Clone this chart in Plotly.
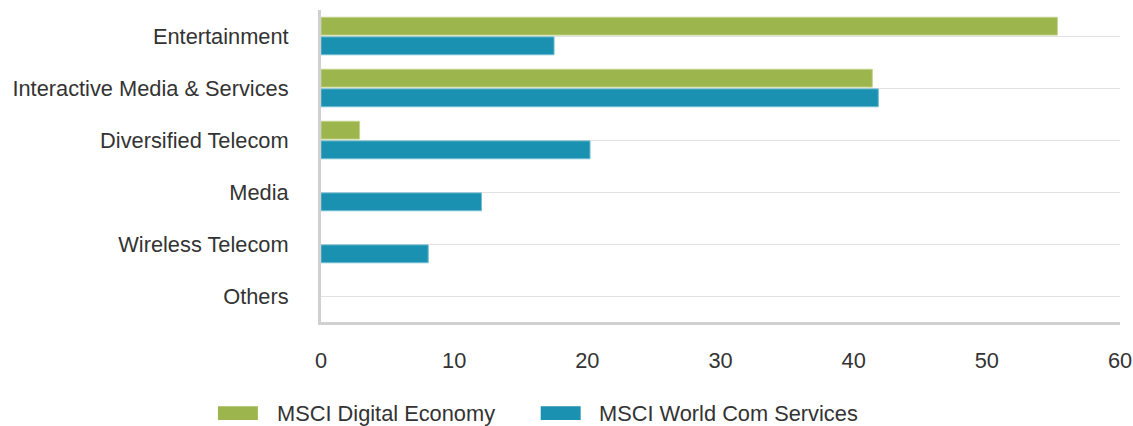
import plotly.graph_objects as go

# Sector weights (%) by index
categories = [
    "Entertainment",
    "Interactive Media & Services",
    "Diversified Telecom",
    "Media",
    "Wireless Telecom",
    "Others",
]
digital_economy = [55.3, 41.4, 2.9, 0, 0, 0]
world_com_services = [17.5, 41.85, 20.2, 12.05, 8.05, 0]

series_names = ["MSCI Digital Economy", "MSCI World Com Services"]
green = "#9DB54D"
blue = "#1B91B1"
x_ticks = [0, 10, 20, 30, 40, 50, 60]

FONT = "Liberation Sans, Arial, sans-serif"
TEXT = "#333333"
SIZE = 21.8


def edge_widths(values):
    # thin lighter outline only on non-empty bars
    return [1 if v > 0 else 0 for v in values]


fig = go.Figure()
fig.add_trace(go.Bar(
    y=categories, x=digital_economy, orientation="h", name=series_names[0],
    marker=dict(color=green, line=dict(color="#C3D48E", width=edge_widths(digital_economy))),
    showlegend=False,
))
fig.add_trace(go.Bar(
    y=categories, x=world_com_services, orientation="h", name=series_names[1],
    marker=dict(color=blue, line=dict(color="#6FBCD2", width=edge_widths(world_com_services))),
    showlegend=False,
))

# Legend drawn as wide swatches with labels below the plot
legend_items = [
    (series_names[0], green, -0.129),
    (series_names[1], blue, 0.275),
]
shapes = []
annotations = []
for name, color, x0 in legend_items:
    shapes.append(dict(
        type="rect", xref="paper", yref="paper",
        x0=x0, x1=x0 + 0.05, y0=-0.314, y1=-0.270,
        fillcolor=color, line=dict(width=0),
    ))
    annotations.append(dict(
        xref="paper", yref="paper", x=x0 + 0.071, y=-0.292,
        xanchor="left", yanchor="middle", showarrow=False,
        text=name, font=dict(family=FONT, size=SIZE, color=TEXT),
    ))

fig.update_layout(
    width=1133, height=426,
    margin=dict(l=321, r=13, t=10, b=104),
    paper_bgcolor="white", plot_bgcolor="white",
    barmode="group", bargap=0.245, bargroupgap=0.09,
    font=dict(family=FONT, size=SIZE, color=TEXT),
    shapes=shapes, annotations=annotations,
    xaxis=dict(
        range=[0, 60], tickvals=x_ticks, showgrid=False, zeroline=False,
        showline=True, linecolor="#D0D0D0", linewidth=3,
        ticks="", ticklabelstandoff=17, automargin=False,
        tickfont=dict(family=FONT, size=SIZE, color=TEXT),
        fixedrange=True,
    ),
    yaxis=dict(
        autorange="reversed", showgrid=True, gridcolor="#E2E2E2", gridwidth=1,
        showline=True, linecolor="#D0D0D0", linewidth=3,
        ticks="", ticklabelstandoff=25, automargin=False,
        tickfont=dict(family=FONT, size=SIZE, color=TEXT),
        fixedrange=True,
    ),
)

fig.write_html("out.html", config={"displayModeBar": False})
